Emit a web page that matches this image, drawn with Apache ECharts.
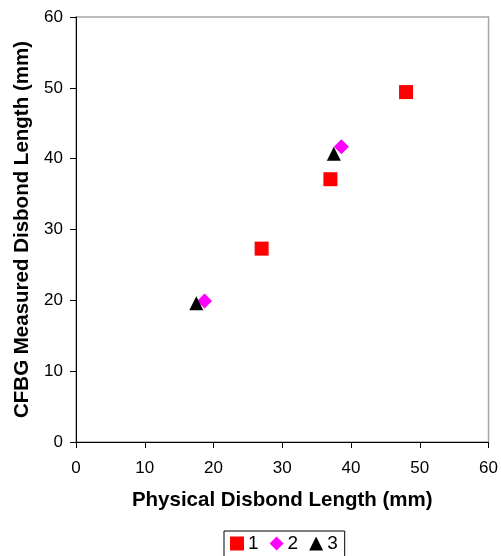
<!DOCTYPE html>
<html>
<head>
<meta charset="utf-8">
<script src="https://cdn.jsdelivr.net/npm/echarts@6/dist/echarts.min.js"></script>
<style>
  html, body { margin: 0; padding: 0; background: #fff; }
  #chart { width: 501px; height: 556px; }
</style>
</head>
<body>
<div id="chart"></div>
<script>
// Physical vs. CFBG-measured disbond lengths, three specimens
const seriesNames = ['1', '2', '3'];
const physical1 = [27, 37, 48];
const measured1 = [27.3, 37.1, 49.4];
const physical2 = [18.7, 38.6];
const measured2 = [19.9, 41.7];
const physical3 = [17.5, 37.5];
const measured3 = [19.6, 40.7];
const xTicks = [0, 10, 20, 30, 40, 50, 60];
const yTicks = [0, 10, 20, 30, 40, 50, 60];

const pairs = (xs, ys) => xs.map((x, i) => [x, ys[i]]);

const font = 'Liberation Sans, Arial, sans-serif';
const chart = echarts.init(document.getElementById('chart'));

const axisCommon = {
  type: 'value',
  axisLine: { show: true, lineStyle: { color: '#000', width: 1 } },
  axisTick: { show: true, inside: false, length: 6, lineStyle: { color: '#000' } },
  splitLine: { show: false },
  nameLocation: 'middle',
  nameTextStyle: { fontFamily: font, fontSize: 20.5, fontWeight: 'bold', color: '#000' },
  axisLabel: { fontFamily: font, fontSize: 17, color: '#000' }
};

chart.setOption({
  animation: false,
  backgroundColor: '#fff',
  grid: {
    left: 76, right: 11, top: 17, bottom: 114,
    show: true, borderColor: '#a6a6a6', borderWidth: 1.5
  },
  legend: {
    data: seriesNames,
    bottom: -3,
    left: 224,
    itemWidth: 14,
    itemHeight: 14,
    itemGap: 11,
    padding: [3, 7, 6, 6],
    borderColor: '#000',
    borderWidth: 1,
    textStyle: { fontFamily: font, fontSize: 19, color: '#000', padding: [0, 0, 0, -1] }
  },
  xAxis: Object.assign({}, axisCommon, {
    min: xTicks[0], max: xTicks[xTicks.length - 1], interval: 10,
    name: 'Physical Disbond Length (mm)',
    nameGap: 48,
    axisLabel: Object.assign({}, axisCommon.axisLabel, { margin: 18 })
  }),
  yAxis: Object.assign({}, axisCommon, {
    min: yTicks[0], max: yTicks[yTicks.length - 1], interval: 10,
    name: 'CFBG Measured Disbond Length (mm)',
    nameGap: 42,
    axisLabel: Object.assign({}, axisCommon.axisLabel, { margin: 13 })
  }),
  series: [
    {
      name: seriesNames[0], type: 'scatter', symbol: 'rect', symbolSize: 14,
      itemStyle: { color: '#ff0000', opacity: 1 },
      data: pairs(physical1, measured1)
    },
    {
      name: seriesNames[1], type: 'scatter', symbol: 'diamond', symbolSize: 15,
      itemStyle: { color: '#ff00ff', opacity: 1 },
      data: pairs(physical2, measured2)
    },
    {
      name: seriesNames[2], type: 'scatter', symbol: 'triangle', symbolSize: 14,
      itemStyle: { color: '#000000', opacity: 1 },
      data: pairs(physical3, measured3)
    }
  ]
});
</script>
</body>
</html>
